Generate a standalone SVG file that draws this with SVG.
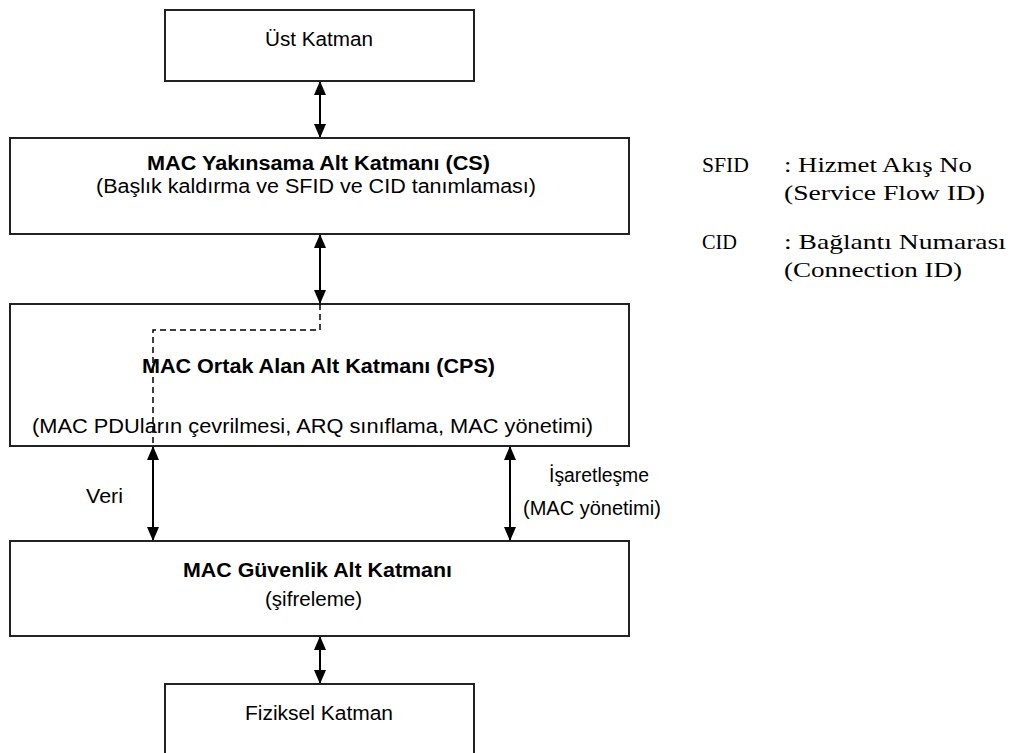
<svg xmlns="http://www.w3.org/2000/svg" width="1013" height="753" viewBox="0 0 1013 753">
<defs>
<style>
.box{fill:#fff;stroke:#222;stroke-width:2}
.t{font-family:"Liberation Sans",Arial,sans-serif;font-size:20px;fill:#000}
.b{font-family:"Liberation Sans",Arial,sans-serif;font-size:20px;font-weight:bold;fill:#000}
.s{font-family:"Liberation Serif","Times New Roman",serif;font-size:22px;fill:#000}
.c{stroke:#000;stroke-width:2;fill:none}
.d{stroke:#000;stroke-width:1.5;fill:none;stroke-dasharray:6 4}
</style>
<marker id="ah" viewBox="0 0 14 12" markerUnits="userSpaceOnUse" markerWidth="14" markerHeight="12" refX="14" refY="6" orient="auto-start-reverse">
<path d="M0,0 L14,6 L0,12 z" fill="#000"/>
</marker>
</defs>
<rect width="1013" height="753" fill="#fff"/>
<g id="connectors">
<path class="c" d="M320,81 V138" marker-start="url(#ah)" marker-end="url(#ah)"/>
<path class="c" d="M320,234 V304" marker-start="url(#ah)" marker-end="url(#ah)"/>
<path class="c" d="M153,446 V541" marker-start="url(#ah)" marker-end="url(#ah)"/>
<path class="c" d="M510,446 V541" marker-start="url(#ah)" marker-end="url(#ah)"/>
<path class="c" d="M320,636 V684" marker-start="url(#ah)" marker-end="url(#ah)"/>
<text class="t" x="86" y="503" textLength="37" lengthAdjust="spacingAndGlyphs">Veri</text>
<text class="t" x="549" y="482" textLength="100" lengthAdjust="spacingAndGlyphs">İşaretleşme</text>
<text class="t" x="523" y="515">(MAC yönetimi)</text>
</g>
<g id="ust">
<rect class="box" x="165" y="10" width="309" height="71"/>
<text class="t" x="265" y="46" textLength="108" lengthAdjust="spacingAndGlyphs">Üst Katman</text>
</g>
<g id="cs">
<rect class="box" x="10" y="138" width="619" height="96"/>
<text class="b" x="147" y="170" textLength="343" lengthAdjust="spacingAndGlyphs">MAC Yakınsama Alt Katmanı (CS)</text>
<text class="t" x="96" y="193" textLength="440" lengthAdjust="spacingAndGlyphs">(Başlık kaldırma ve SFID ve CID tanımlaması)</text>
</g>
<g id="cps">
<rect class="box" x="10" y="304" width="619" height="142"/>
<text class="b" x="142" y="373" textLength="353" lengthAdjust="spacingAndGlyphs">MAC Ortak Alan Alt Katmanı (CPS)</text>
<text class="t" x="32" y="433" textLength="561" lengthAdjust="spacingAndGlyphs">(MAC PDUların çevrilmesi, ARQ sınıflama, MAC yönetimi)</text>
</g>
<g id="guvenlik">
<rect class="box" x="10" y="541" width="619" height="95"/>
<text class="b" x="183" y="577" textLength="269" lengthAdjust="spacingAndGlyphs">MAC Güvenlik Alt Katmanı</text>
<text class="t" x="265" y="606" textLength="97" lengthAdjust="spacingAndGlyphs">(şifreleme)</text>
</g>
<g id="fiziksel">
<rect class="box" x="165" y="684" width="309" height="80"/>
<text class="t" x="245" y="720" textLength="148" lengthAdjust="spacingAndGlyphs">Fiziksel Katman</text>
</g>
<path class="d" d="M320,304 V330 H153 V446"/>
<g id="legend">
<text class="s" x="702" y="172" textLength="47" lengthAdjust="spacingAndGlyphs">SFID</text>
<text class="s" x="784" y="172" textLength="188" lengthAdjust="spacingAndGlyphs">: Hizmet Akış No</text>
<text class="s" x="784" y="200" textLength="201" lengthAdjust="spacingAndGlyphs">(Service Flow ID)</text>
<text class="s" x="702" y="249" textLength="35" lengthAdjust="spacingAndGlyphs">CID</text>
<text class="s" x="784" y="249" textLength="222" lengthAdjust="spacingAndGlyphs">: Bağlantı Numarası</text>
<text class="s" x="784" y="277" textLength="178" lengthAdjust="spacingAndGlyphs">(Connection ID)</text>
</g>
</svg>
